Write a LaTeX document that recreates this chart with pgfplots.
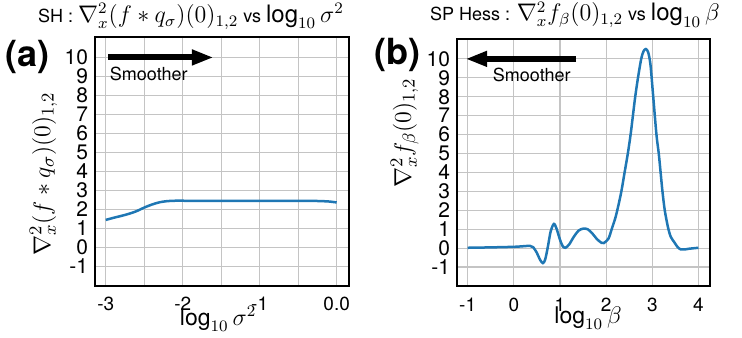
\documentclass[border=0pt]{standalone}
\usepackage{fontspec}
\setmainfont{TeX Gyre Heros}
\usepackage{pgfplots}
\pgfplotsset{compat=1.18}
\usetikzlibrary{arrows.meta}
\definecolor{mplblue}{HTML}{1F77B4}
\definecolor{gridgray}{HTML}{C4C4C4}
\newcommand{\tm}[1]{{\fontsize{12}{13}\selectfont$#1$}}
\pgfplotsset{
 myax/.style={
  scale only axis, anchor=south west,
  ymin=-2, ymax=11.05, ytick={-1,0,...,10},
  grid=major, major grid style={gridgray, line width=0.6pt},
  axis line style={line width=1pt},
  major tick length=0pt,
  yticklabel style={font=\fontsize{10.5}{12}\selectfont},
  xticklabel style={font=\fontsize{9.5}{11}\selectfont, anchor=base, yshift=-12.5pt},
  /pgf/number format/assume math mode=true,
  xlabel style={font=\fontsize{11.5}{13}\selectfont},
  ylabel style={font=\fontsize{12.5}{14}\selectfont},
  title style={font=\fontsize{9}{10}\selectfont, anchor=base},
 }
}
\begin{document}
\begin{tikzpicture}
\path[use as bounding box] (0,0) rectangle (371pt,168.5pt);
\begin{axis}[myax,
  at={(47.5pt,25.75pt)}, width=127pt, height=124pt,
  xmin=-3.139, xmax=0.16,
  xtick={-3,-2.5,...,0}, xticklabels={-3,,-2,,-1,,0.0},
  title={SH : \tm{\nabla^2_x(f*q_\sigma)(0)_{1,2}} vs \tm{\log_{10}\sigma^2}},
  title style={at={(axis description cs:0.378,1)}, yshift=1.5pt},
  xlabel={$\log_{10}\sigma^2$},
  xlabel style={at={(axis description cs:0.485,0)}, anchor=base, yshift=-20pt},
  ylabel={$\nabla^2_x(f*q_\sigma)(0)_{1,2}$},
  ylabel style={at={(axis description cs:-0.177,0.45)}, anchor=base},
]
\addplot[mplblue, line width=1.25pt, smooth] coordinates {
(-3.0,1.45) (-2.9,1.56) (-2.8,1.66) (-2.7,1.77) (-2.6,1.91) (-2.5,2.10)
(-2.4,2.26) (-2.3,2.38) (-2.2,2.44) (-2.1,2.46) (-2.0,2.46) (-1.5,2.45)
(-1.0,2.45) (-0.5,2.45) (-0.3,2.45) (-0.2,2.44) (-0.1,2.42) (0.0,2.37)
};
\draw[line width=3pt, -{Triangle[length=10.8pt,width=7.3pt]}] (axis cs:-2.97,10) -- (axis cs:-1.6,10);
\node[anchor=base, font=\fontsize{9}{11}\selectfont, inner sep=0] at (axis cs:-2.44,8.77) {Smoother};
\end{axis}
\begin{axis}[myax,
  at={(228.5pt,25.5pt)}, width=126.5pt, height=123.5pt,
  xmin=-1.23, xmax=4.25,
  xtick={-1,0,...,4}, xticklabels={-1,0,1,2,3,4},
  title={SP Hess : \tm{\nabla^2_x f_\beta(0)_{1,2}} vs \tm{\log_{10}\beta}},
  title style={at={(axis description cs:0.466,1)}, yshift=3pt},
  xlabel={$\log_{10}\beta$},
  xlabel style={at={(axis description cs:0.518,0)}, anchor=base, yshift=-18.75pt},
  ylabel={$\nabla^2_x f_\beta(0)_{1,2}$},
  ylabel style={at={(axis description cs:-0.182,0.62)}, anchor=base},
]
\addplot[mplblue, line width=1.25pt, smooth, tension=0.5] coordinates {
(-1.0,0.02) (-0.5,0.04) (0.0,0.07) (0.2,0.10) (0.35,0.12) (0.42,0.05)
(0.5,-0.25) (0.57,-0.62) (0.63,-0.79) (0.68,-0.6) (0.74,0.1) (0.80,0.9)
(0.87,1.28) (0.93,1.0) (1.0,0.45) (1.06,0.1) (1.12,0.02) (1.2,0.2)
(1.3,0.6) (1.4,0.92) (1.5,1.03) (1.6,1.0) (1.7,0.78) (1.8,0.48)
(1.9,0.28) (1.95,0.27) (2.05,0.5) (2.12,1.0) (2.2,1.6) (2.26,2.2)
(2.33,3.0) (2.40,4.0) (2.47,5.0) (2.53,6.0) (2.58,7.0) (2.63,8.0)
(2.69,9.0) (2.76,10.0) (2.81,10.4) (2.86,10.52) (2.91,10.35) (2.96,9.7)
(3.02,8.0) (3.09,6.0) (3.14,5.0) (3.18,4.0) (3.22,3.0) (3.27,2.0)
(3.34,1.1) (3.40,0.6) (3.48,0.3) (3.55,0.05) (3.62,-0.07) (3.7,-0.07)
(3.8,-0.03) (4.0,0.02)
};
\draw[line width=3pt, -{Triangle[length=10.8pt,width=7.3pt]}] (axis cs:1.35,10) -- (axis cs:-1.045,10);
\node[anchor=base, font=\fontsize{9}{11}\selectfont, inner sep=0] at (axis cs:0.39,8.83) {Smoother};
\end{axis}
\node[anchor=base west, font=\fontsize{18}{18}\selectfont\bfseries, inner sep=0] at (2.5pt,135.25pt) {(a)};
\node[anchor=base west, font=\fontsize{18}{18}\selectfont\bfseries, inner sep=0] at (187pt,136.25pt) {(b)};
\end{tikzpicture}
\end{document}
